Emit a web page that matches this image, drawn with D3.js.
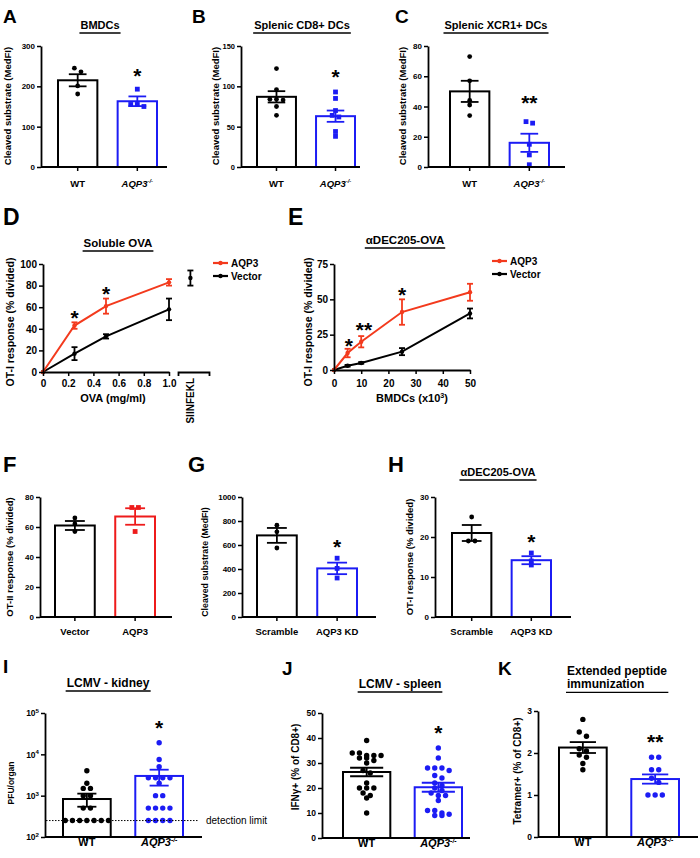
<!DOCTYPE html>
<html>
<head>
<meta charset="utf-8">
<title>AQP3 figure</title>
<script src="https://cdn.jsdelivr.net/npm/d3@7"></script>
<style>
  body { margin: 0; background: #fff; }
  svg { display: block; }
</style>
</head>
<body>
<svg id="figure" width="700" height="858"></svg>
<script>
// ---------- values ----------
const wtKoCats = ["WT", "AQP3-/-"];
const vectorCats = ["Vector", "AQP3"];
const kdCats = ["Scramble", "AQP3 KD"];

// A  BMDCs
const bmdcMean = [215, 163];
const bmdcSem = [15, 12];
const bmdcWT = [245, 236, 201, 181];
const bmdcKO = [193, 150, 155, 155];
const bmdcTicks = [0, 100, 200, 300];

// B  splenic CD8+ DCs
const cd8Mean = [87, 63];
const cd8Sem = [7, 7];
const cd8WT = [122, 96, 84, 84, 83, 75, 64];
const cd8KO = [93, 85, 70, 64, 62, 44, 38];
const cd8Ticks = [0, 50, 100, 150];

// C  splenic XCR1+ DCs
const xcr1Mean = [50, 16];
const xcr1Sem = [7, 6];
const xcr1WT = [73, 57, 44, 41, 34];
const xcr1KO = [30, 29, 15, 8, 1.5];
const xcr1Ticks = [0, 20, 40, 60, 80];

// D  soluble OVA
const ovaDose = [0, 0.25, 0.5, 1.0];
const ovaAqp3 = [0, 43, 61, 83];
const ovaAqp3Sem = [0, 3, 7, 3];
const ovaVector = [0, 17, 33, 58];
const ovaVectorSem = [0, 6, 2, 10];
const siinfeklCat = ["SIINFEKL"];
const siinfeklMean = [87];
const siinfeklSem = [7];
const ovaXTicks = [0, 0.2, 0.4, 0.6, 0.8, 1.0];
const ovaYTicks = [0, 20, 40, 60, 80, 100];
const ovaStars = [{ x: 0.25, v: 55, t: "*" }, { x: 0.5, v: 77, t: "*" }];

// E  aDEC205-OVA titration
const decCells = [0, 5, 10, 25, 50];
const decAqp3 = [0, 12, 20, 41, 55];
const decAqp3Sem = [0, 3, 4, 9, 6];
const decVector = [0, 3, 5, 13, 40];
const decVectorSem = [0, 0.6, 0.6, 2.5, 3.5];
const decXTicks = [0, 10, 20, 30, 40, 50];
const decYTicks = [0, 25, 50, 75];
const decStars = [{ x: 5.5, v: 21, t: "*" }, { x: 11, v: 32, t: "**" }, { x: 25, v: 57, t: "*" }];

// F  OT-II
const otiiMean = [61, 67];
const otiiSem = [3, 5.5];
const otiiVector = [66, 62, 57];
const otiiAqp3 = [73, 73, 57];
const otiiTicks = [0, 20, 40, 60, 80];

// G  cleaved substrate, knockdown
const kdMean = [680, 405];
const kdSem = [62, 48];
const kdScramble = [765, 710, 575];
const kdAqp3 = [490, 405, 325];
const kdTicks = [0, 200, 400, 600, 800, 1000];

// H  OT-I, knockdown
const kdOtiMean = [21, 14.2];
const kdOtiSem = [2, 1];
const kdOtiScramble = [25, 19, 19];
const kdOtiAqp3 = [16, 14, 13];
const kdOtiTicks = [0, 10, 20, 30];

// I  LCMV kidney (PFU/organ)
const kidneyMean = [830, 3000];
const kidneySem = [290, 1250];
const kidneyWT = [4000, 2000, 1500, 1500, 1000, 1000, 500, 500, 250, 250, 250, 250, 250, 250, 250];
const kidneyKO = [19000, 7500, 5000, 2700, 2700, 2700, 2700, 2000, 1000, 1000, 500, 500, 500, 500, 250, 250, 250, 250];
const kidneyTicks = [1e2, 1e3, 1e4, 1e5];
const detectionLimit = 250;

// J  LCMV spleen IFNg+
const spleenMean = [26.4, 20.3];
const spleenSem = [1.7, 1.8];
const spleenWT = [39, 34, 34, 33, 33, 33, 32, 32, 31, 30, 27, 26, 22, 20, 20, 20, 18, 17, 16, 10];
const spleenKO = [36, 32, 28, 28, 28, 27, 25, 24, 22, 21, 20, 19, 18, 17, 17, 15, 11, 11, 10, 9, 9, 9.5];
const spleenTicks = [0, 10, 20, 30, 40, 50];

// K  extended peptide immunization
const tetMean = [2.13, 1.38];
const tetSem = [0.13, 0.11];
const tetWT = [2.8, 2.5, 2.4, 2.1, 2.05, 1.95, 1.9, 1.75, 1.6];
const tetKO = [1.9, 1.9, 1.6, 1.6, 1.4, 1.3, 1.0, 1.0, 1.0];
const tetTicks = [0, 1, 2, 3];

// ---------- drawing ----------
const FONT = "'Liberation Sans', Arial, Helvetica, sans-serif";
const BLUE = "#1c1cf4", RED = "#ee1b1b", ORANGE = "#f33a1d";
const STAR_FS = 21;

const svg = d3.select("#figure")
    .attr("font-family", FONT)
    .attr("font-weight", "bold");

function panelLetter(t, x, y, size) {
    svg.append("text").attr("x", x).attr("y", y)
        .attr("font-size", size).text(t);
}

function underlinedTitle(lines, x, y, size, anchor) {
    const t = svg.append("text").attr("font-size", size).attr("text-anchor", anchor || "middle");
    lines.forEach((l, i) => {
        t.append("tspan").attr("x", x).attr("y", y + i * size * 1.12).text(l);
    });
    const bb = t.node().getBBox();
    const uy = y + (lines.length - 1) * size * 1.12 + 4;
    svg.append("line")
        .attr("x1", bb.x - 1).attr("x2", bb.x + bb.width + 1)
        .attr("y1", uy).attr("y2", uy)
        .attr("stroke", "#000").attr("stroke-width", 1.3);
    return t;
}

function yLabel(text, cx, cy, size) {
    return svg.append("text")
        .attr("transform", `translate(${cx + size * 0.36},${cy}) rotate(-90)`)
        .attr("text-anchor", "middle")
        .attr("font-size", size)
        .text(text);
}

function styleAxis(ax, fs) {
    ax.attr("font-family", FONT).attr("font-size", fs).attr("font-weight", "bold");
    ax.select(".domain").attr("stroke", "#000").attr("stroke-width", 1.8);
    ax.selectAll(".tick line").attr("stroke", "#000").attr("stroke-width", 1.5);
    ax.selectAll(".tick text").attr("fill", "#000");
}

function koLabel(c) {
    if (c !== "AQP3-/-") return;
    const t = d3.select(this).text(null).attr("font-style", "italic");
    t.append("tspan").text("AQP3");
    t.append("tspan").attr("font-size", "0.62em").attr("dy", "-0.6em").text("-/-");
}

// spread dots that sit on the same level side by side, like a scatter dot plot
function dotRows(vals, y, cx, r) {
    const pts = vals.map(v => ({ v: v, y: y(v) })).sort((a, b) => a.y - b.y);
    const rows = [];
    pts.forEach(p => {
        const last = rows[rows.length - 1];
        if (last && p.y - last[0].y < r * 1.6) last.push(p);
        else rows.push([p]);
    });
    const step = 2 * r + 1.8;
    rows.forEach(row => {
        row.forEach((p, i) => { p.x = cx + (i - (row.length - 1) / 2) * step; });
    });
    return pts;
}

function drawStar(g, x, yv, t) {
    g.append("text").attr("x", x).attr("y", yv + STAR_FS * 0.585)
        .attr("text-anchor", "middle").attr("font-size", STAR_FS).text(t);
}

function barPanel(p) {
    const g = svg.append("g");
    const y = (p.log ? d3.scaleLog() : d3.scaleLinear()).domain(p.domain).range([p.bot, p.top]);
    const x = d3.scaleBand().domain(p.cats).range([p.barL, p.barR]).paddingInner(0.34);
    const base = p.domain[0];

    // bars
    g.selectAll(".bar").data(p.cats).enter().append("rect")
        .attr("class", "bar")
        .attr("x", c => x(c))
        .attr("width", x.bandwidth())
        .attr("y", (c, i) => y(p.means[i]))
        .attr("height", (c, i) => y(base) - y(p.means[i]))
        .attr("fill", "none")
        .attr("stroke", (c, i) => p.colors[i])
        .attr("stroke-width", 2);

    // dots
    p.cats.forEach((c, i) => {
        const cx = x(c) + x.bandwidth() / 2;
        const pts = dotRows(p.points[i], y, cx, p.r);
        if (p.shapes[i] === "square") {
            g.selectAll(null).data(pts).enter().append("rect")
                .attr("x", d => d.x - p.r).attr("y", d => d.y - p.r)
                .attr("width", p.r * 2).attr("height", p.r * 2)
                .attr("fill", p.colors[i]);
        } else {
            g.selectAll(null).data(pts).enter().append("circle")
                .attr("cx", d => d.x).attr("cy", d => d.y).attr("r", p.r)
                .attr("fill", p.colors[i]);
        }
    });

    // error bars (mean +- SEM)
    p.cats.forEach((c, i) => {
        const cx = x(c) + x.bandwidth() / 2;
        const hw = x.bandwidth() * p.cap / 2;
        const lo = y(p.means[i] - p.sems[i]), hi = y(p.means[i] + p.sems[i]);
        const eb = g.append("g").attr("stroke", p.colors[i]).attr("stroke-width", 1.8);
        eb.append("line").attr("x1", cx).attr("x2", cx).attr("y1", lo).attr("y2", hi);
        eb.append("line").attr("x1", cx - hw).attr("x2", cx + hw).attr("y1", lo).attr("y2", lo);
        eb.append("line").attr("x1", cx - hw).attr("x2", cx + hw).attr("y1", hi).attr("y2", hi);
    });

    // axes
    const ya = g.append("g").attr("transform", `translate(${p.x0},0)`)
        .call(d3.axisLeft(y).tickValues(p.ticks).tickSize(4).tickSizeOuter(0).tickPadding(2)
            .tickFormat(p.log ? () => "" : d3.format("d")));
    styleAxis(ya, p.tickFs);
    if (p.log) {
        ya.selectAll(".tick text").each(function (d) {
            const t = d3.select(this);
            t.append("tspan").text("10");
            t.append("tspan").attr("font-size", "0.72em").attr("dy", "-0.55em")
                .text(Math.round(Math.log10(d)));
        });
    }

    const xa = g.append("g").attr("transform", `translate(0,${p.bot})`)
        .call(d3.axisBottom(x).tickSize(4).tickSizeOuter(0));
    xa.select(".domain").attr("d", `M${p.x0},0H${p.x1}`);
    styleAxis(xa, p.catFs);
    xa.selectAll(".tick text").attr("y", p.catDy).attr("dy", null).each(koLabel);

    if (p.star) {
        drawStar(g, x(p.star.cat) + x.bandwidth() / 2, y(p.star.v), p.star.t);
    }
    return { g: g, x: x, y: y };
}

function errorBars(g, sx, sy, xs, ms, es, color) {
    xs.forEach((xv, i) => {
        if (!es[i]) return;
        const cx = sx(xv), lo = sy(ms[i] - es[i]), hi = sy(ms[i] + es[i]);
        const eb = g.append("g").attr("stroke", color).attr("stroke-width", 1.8);
        eb.append("line").attr("x1", cx).attr("x2", cx).attr("y1", lo).attr("y2", hi);
        eb.append("line").attr("x1", cx - 3).attr("x2", cx + 3).attr("y1", lo).attr("y2", lo);
        eb.append("line").attr("x1", cx - 3).attr("x2", cx + 3).attr("y1", hi).attr("y2", hi);
    });
}

function linePanel(p) {
    const g = svg.append("g");
    const x = d3.scaleLinear().domain(p.xDomain).range([p.x0, p.x1]);
    const y = d3.scaleLinear().domain(p.yDomain).range([p.bot, p.top]);

    p.series.forEach(s => {
        const pts = s.x.map((xv, i) => [xv, s.y[i]]);
        g.append("path").datum(pts)
            .attr("d", d3.line().x(d => x(d[0])).y(d => y(d[1])))
            .attr("fill", "none").attr("stroke", s.color).attr("stroke-width", 2);
        errorBars(g, x, y, s.x, s.y, s.e, s.color);
        g.selectAll(null).data(pts).enter().append("circle")
            .attr("cx", d => x(d[0])).attr("cy", d => y(d[1])).attr("r", 2.2)
            .attr("fill", s.color);
    });

    const ya = g.append("g").attr("transform", `translate(${p.x0},0)`)
        .call(d3.axisLeft(y).tickValues(p.yTicks).tickSize(4).tickSizeOuter(0).tickPadding(2));
    styleAxis(ya, p.tickFs);

    const xa = g.append("g").attr("transform", `translate(0,${p.bot})`)
        .call(d3.axisBottom(x).tickValues(p.xTicks).tickSize(4).tickSizeOuter(0).tickPadding(2)
            .tickFormat(p.xFormat));
    styleAxis(xa, p.tickFs);
    xa.selectAll(".tick text").attr("y", p.tickDy).attr("dy", null);

    p.stars.forEach(s => drawStar(g, x(s.x), y(s.v), s.t));

    // legend
    p.series.slice().reverse().forEach((s, i) => {
        const ly = p.legY + i * 13;
        g.append("line").attr("x1", p.legX).attr("x2", p.legX + 15)
            .attr("y1", ly).attr("y2", ly).attr("stroke", s.color).attr("stroke-width", 2.2);
        g.append("circle").attr("cx", p.legX + 7.5).attr("cy", ly).attr("r", 2.2).attr("fill", s.color);
        g.append("text").attr("x", p.legX + 18).attr("y", ly + 3.6)
            .attr("font-size", 10).text(s.name);
    });
    return { g: g, x: x, y: y };
}

// ---- row 1 ----
panelLetter("A", 3, 23, 19);
panelLetter("B", 192, 23, 19);
panelLetter("C", 395, 23, 19);

const rowTop = { top: 46, bot: 167, tickFs: 8, catFs: 9.5, catDy: 20, r: 2.4, cap: 0.45 };

barPanel(Object.assign({}, rowTop, {
    x0: 41, x1: 167, barL: 58, barR: 157, domain: [0, 300], ticks: bmdcTicks,
    cats: wtKoCats, means: bmdcMean, sems: bmdcSem, points: [bmdcWT, bmdcKO],
    colors: ["#000", BLUE], shapes: ["circle", "square"],
    star: { cat: "AQP3-/-", v: 238, t: "*" }
}));
underlinedTitle(["BMDCs"], 100, 29, 11);
yLabel("Cleaved substrate (MedFI)", 8, 106, 9.5);

barPanel(Object.assign({}, rowTop, {
    x0: 241, x1: 360, barL: 257, barR: 355, domain: [0, 150], ticks: cd8Ticks, tickFs: 7.5,
    cats: wtKoCats, means: cd8Mean, sems: cd8Sem, points: [cd8WT, cd8KO],
    colors: ["#000", BLUE], shapes: ["circle", "square"],
    star: { cat: "AQP3-/-", v: 118, t: "*" }
}));
underlinedTitle(["Splenic CD8+ DCs"], 302, 29, 11);
yLabel("Cleaved substrate (MedFI)", 216, 106, 9.5);

barPanel(Object.assign({}, rowTop, {
    x0: 428, x1: 565, barL: 450, barR: 549, domain: [0, 80], ticks: xcr1Ticks,
    cats: wtKoCats, means: xcr1Mean, sems: xcr1Sem, points: [xcr1WT, xcr1KO],
    colors: ["#000", BLUE], shapes: ["circle", "square"],
    star: { cat: "AQP3-/-", v: 46, t: "**" }
}));
underlinedTitle(["Splenic XCR1+ DCs"], 496, 29, 11);
yLabel("Cleaved substrate (MedFI)", 403, 106, 9.5);

// ---- row 2 ----
panelLetter("D", 3, 225, 23);
panelLetter("E", 288, 225, 23);

const dPanel = linePanel({
    x0: 43, x1: 169, top: 264, bot: 372, xDomain: [0, 1], yDomain: [0, 100],
    xTicks: ovaXTicks, yTicks: ovaYTicks, tickFs: 10, tickDy: 15,
    xFormat: d => d === 0 ? "0" : d3.format(".1f")(d),
    series: [
        { name: "Vector", x: ovaDose, y: ovaVector, e: ovaVectorSem, color: "#000" },
        { name: "AQP3", x: ovaDose, y: ovaAqp3, e: ovaAqp3Sem, color: ORANGE }
    ],
    stars: ovaStars, legX: 213, legY: 263
});
// separate SIINFEKL control segment
const sx = d3.scalePoint().domain(siinfeklCat).range([178, 209]).padding(0.5).align(0.4);
const sa = dPanel.g.append("g").attr("transform", "translate(0,372)")
    .call(d3.axisBottom(sx).tickSizeInner(0).tickSizeOuter(4).tickFormat(""));
styleAxis(sa, 10);
errorBars(dPanel.g, sx, dPanel.y, siinfeklCat, siinfeklMean, siinfeklSem, "#000");
dPanel.g.selectAll(null).data(siinfeklCat).enter().append("circle")
    .attr("cx", d => sx(d)).attr("cy", (d, i) => dPanel.y(siinfeklMean[i])).attr("r", 2.2);
dPanel.g.selectAll(null).data(siinfeklCat).enter().append("text")
    .attr("transform", d => `translate(${sx(d) + 4},378) rotate(-90)`)
    .attr("text-anchor", "end").attr("font-size", 10).text(d => d);
underlinedTitle(["Soluble OVA"], 118, 247, 11.5);
yLabel("OT-I response (% divided)", 10, 322, 10.5);
svg.append("text").attr("x", 113).attr("y", 402).attr("text-anchor", "middle")
    .attr("font-size", 11).text("OVA (mg/ml)");

linePanel({
    x0: 334, x1: 470, top: 264, bot: 370, xDomain: [0, 50], yDomain: [0, 75],
    xTicks: decXTicks, yTicks: decYTicks, tickFs: 10, tickDy: 17,
    xFormat: d3.format("d"),
    series: [
        { name: "Vector", x: decCells, y: decVector, e: decVectorSem, color: "#000" },
        { name: "AQP3", x: decCells, y: decAqp3, e: decAqp3Sem, color: ORANGE }
    ],
    stars: decStars, legX: 492, legY: 261
});
underlinedTitle(["\u03B1DEC205-OVA"], 405, 244, 11.5);
yLabel("OT-I response (% divided)", 308, 322, 10.5);
const eX = svg.append("text").attr("x", 412).attr("y", 402).attr("text-anchor", "middle").attr("font-size", 11);
eX.append("tspan").text("BMDCs (x10");
eX.append("tspan").attr("font-size", "0.65em").attr("dy", "-0.6em").text("3");
eX.append("tspan").attr("dy", "0.39em").text(")");

// ---- row 3 ----
panelLetter("F", 3, 472, 22);
panelLetter("G", 188, 472, 22);
panelLetter("H", 388, 472, 22);

const rowMid = { top: 497, bot: 617, tickFs: 8, catFs: 9.5, catDy: 18, r: 2.4, cap: 0.5 };

barPanel(Object.assign({}, rowMid, {
    x0: 40, x1: 172, barL: 55, barR: 155, domain: [0, 80], ticks: otiiTicks,
    cats: vectorCats, means: otiiMean, sems: otiiSem, points: [otiiVector, otiiAqp3],
    colors: ["#000", RED], shapes: ["circle", "square"]
}));
yLabel("OT-II response (% divided)", 10, 557, 9.5);

barPanel(Object.assign({}, rowMid, {
    x0: 242, x1: 376, barL: 257, barR: 357, domain: [0, 1000], ticks: kdTicks,
    cats: kdCats, means: kdMean, sems: kdSem, points: [kdScramble, kdAqp3],
    colors: ["#000", BLUE], shapes: ["circle", "square"],
    star: { cat: "AQP3 KD", v: 625, t: "*" }
}));
yLabel("Cleaved substrate (MedFI)", 205, 562, 8.8);

barPanel(Object.assign({}, rowMid, {
    x0: 435, x1: 571, barL: 452, barR: 551, domain: [0, 30], ticks: kdOtiTicks,
    cats: kdCats, means: kdOtiMean, sems: kdOtiSem, points: [kdOtiScramble, kdOtiAqp3],
    colors: ["#000", BLUE], shapes: ["circle", "square"],
    star: { cat: "AQP3 KD", v: 20, t: "*" }
}));
underlinedTitle(["\u03B1DEC205-OVA"], 498, 476, 11);
yLabel("OT-I response (% divided)", 410, 557, 9.5);

// ---- row 4 ----
panelLetter("I", 3, 673, 19);
panelLetter("J", 282, 675, 19);
panelLetter("K", 498, 675, 19);

const rowBot = { tickFs: 8.5, catFs: 11, catDy: 9, r: 2.7, cap: 0.45, shapes: ["circle", "circle"] };

const iPanel = barPanel(Object.assign({}, rowBot, {
    x0: 45, x1: 202, top: 713, bot: 837, barL: 63, barR: 183, log: true,
    domain: [1e2, 1e5], ticks: kidneyTicks, catDy: 9,
    cats: wtKoCats, means: kidneyMean, sems: kidneySem, points: [kidneyWT, kidneyKO],
    colors: ["#000", BLUE], cap: 0.4,
    star: { cat: "AQP3-/-", v: 57000, t: "*" }
}));
iPanel.g.append("line")
    .attr("x1", 46).attr("x2", 198)
    .attr("y1", iPanel.y(detectionLimit)).attr("y2", iPanel.y(detectionLimit))
    .attr("stroke", "#000").attr("stroke-width", 1).attr("stroke-dasharray", "1.5,1.5");
iPanel.g.append("text").attr("x", 206).attr("y", iPanel.y(detectionLimit) + 3.5)
    .attr("font-size", 10).attr("font-weight", "normal").text("detection limit");
underlinedTitle(["LCMV - kidney"], 108, 687, 12);
yLabel("PFU/organ", 11, 783, 8.5);

barPanel(Object.assign({}, rowBot, {
    x0: 322, x1: 470, top: 713, bot: 838, barL: 343, barR: 462,
    domain: [0, 50], ticks: spleenTicks,
    cats: wtKoCats, means: spleenMean, sems: spleenSem, points: [spleenWT, spleenKO],
    colors: ["#000", BLUE], cap: 0.7,
    star: { cat: "AQP3-/-", v: 44, t: "*" }
}));
underlinedTitle(["LCMV - spleen"], 400, 688, 12);
yLabel("IFN\u03B3+ (% of CD8+)", 295, 767, 10);

barPanel(Object.assign({}, rowBot, {
    x0: 538, x1: 698, top: 711, bot: 837, barL: 559, barR: 679,
    domain: [0, 3], ticks: tetTicks,
    cats: wtKoCats, means: tetMean, sems: tetSem, points: [tetWT, tetKO],
    colors: ["#000", BLUE], cap: 0.55,
    star: { cat: "AQP3-/-", v: 2.38, t: "**" }
}));
underlinedTitle(["Extended peptide", "immunization"], 567, 675, 12, "start");
yLabel("Tetramer+ (% of CD8+)", 517, 771, 10);
</script>
</body>
</html>
